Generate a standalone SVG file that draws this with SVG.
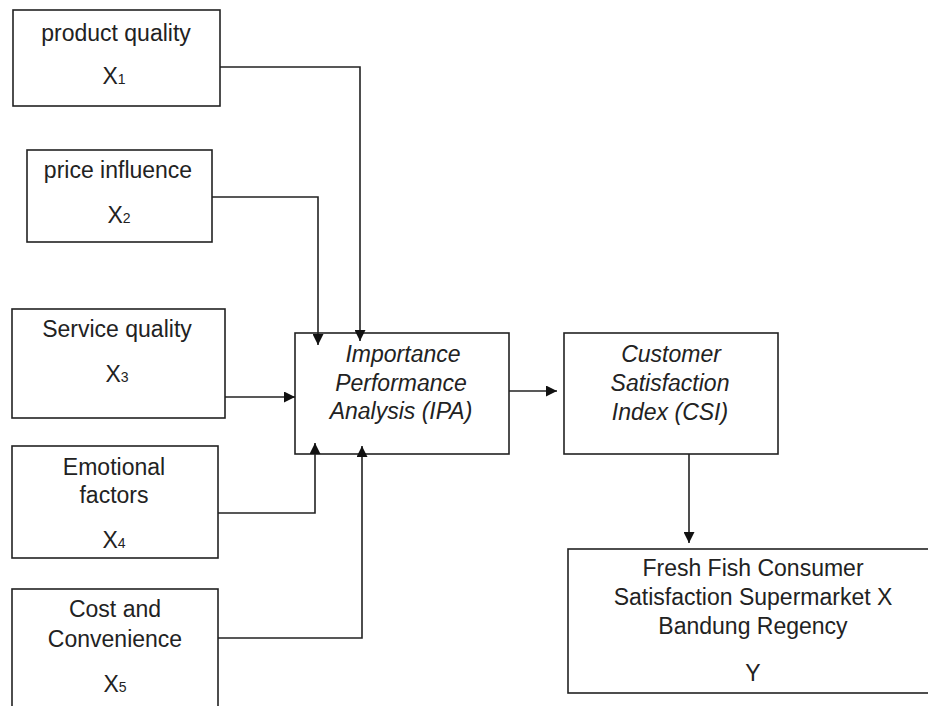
<svg xmlns="http://www.w3.org/2000/svg" width="928" height="706" viewBox="0 0 928 706">
<style>
.box{fill:#fff;stroke:#222;stroke-width:1.6}
.t{font-family:"Liberation Sans",Arial,sans-serif;font-size:23px;fill:#222;text-anchor:middle}
.i{font-style:italic}
.sub{font-size:14px}
.c{fill:none;stroke:#222;stroke-width:1.6}
</style>
<defs>
<marker id="ah" markerUnits="userSpaceOnUse" markerWidth="12" markerHeight="11" refX="11" refY="5.5" orient="auto">
<path d="M0,0 L11,5.5 L0,11 Z" fill="#111"/>
</marker>
</defs>
<rect width="928" height="706" fill="#fff"/>
<g id="x1">
<rect class="box" x="13" y="10" width="207" height="96"/>
<text class="t" x="116" y="41">product quality</text>
<text class="t" x="114" y="84">X<tspan class="sub">1</tspan></text>
</g>
<g id="x2">
<rect class="box" x="27" y="150" width="185" height="92"/>
<text class="t" x="118" y="178">price influence</text>
<text class="t" x="119" y="223">X<tspan class="sub">2</tspan></text>
</g>
<g id="x3">
<rect class="box" x="12" y="309" width="213" height="109"/>
<text class="t" x="117" y="337">Service quality</text>
<text class="t" x="117" y="382">X<tspan class="sub">3</tspan></text>
</g>
<g id="x4">
<rect class="box" x="12" y="446" width="206" height="112"/>
<text class="t" x="114" y="475">Emotional</text>
<text class="t" x="114" y="503">factors</text>
<text class="t" x="114" y="548">X<tspan class="sub">4</tspan></text>
</g>
<g id="x5">
<rect class="box" x="12" y="589" width="206" height="130"/>
<text class="t" x="115" y="617">Cost and</text>
<text class="t" x="115" y="647">Convenience</text>
<text class="t" x="115" y="692">X<tspan class="sub">5</tspan></text>
</g>
<g id="ipa">
<rect class="box" x="295" y="333" width="214" height="121"/>
<text class="t i" x="403" y="362">Importance</text>
<text class="t i" x="401" y="391">Performance</text>
<text class="t i" x="401" y="419">Analysis (IPA)</text>
</g>
<g id="csi">
<rect class="box" x="564" y="333" width="214" height="121"/>
<text class="t i" x="671" y="362">Customer</text>
<text class="t i" x="670" y="391">Satisfaction</text>
<text class="t i" x="670" y="420">Index (CSI)</text>
</g>
<g id="y">
<rect class="box" x="568" y="549" width="372" height="144"/>
<text class="t" x="753" y="576">Fresh Fish Consumer</text>
<text class="t" x="753" y="605">Satisfaction Supermarket X</text>
<text class="t" x="753" y="634">Bandung Regency</text>
<text class="t" x="753" y="681">Y</text>
</g>
<g id="connectors">
<path class="c" d="M220,67 H360 V341" marker-end="url(#ah)"/>
<path class="c" d="M212,197 H318 V345" marker-end="url(#ah)"/>
<path class="c" d="M225,397 H295" marker-end="url(#ah)"/>
<path class="c" d="M218,513 H315 V443" marker-end="url(#ah)"/>
<path class="c" d="M218,638 H362 V446" marker-end="url(#ah)"/>
<path class="c" d="M509,391 H557" marker-end="url(#ah)"/>
<path class="c" d="M689,454 V543" marker-end="url(#ah)"/>
</g>
</svg>
